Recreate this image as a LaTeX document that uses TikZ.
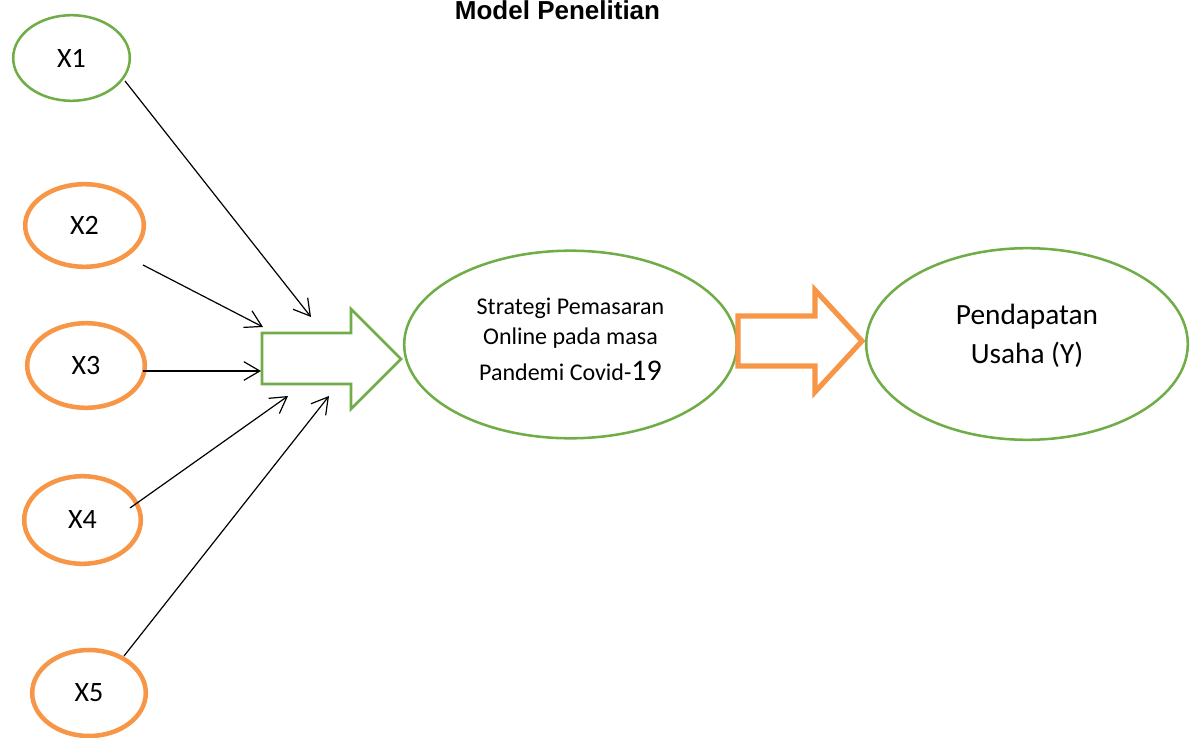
\documentclass[tikz,border=0pt]{standalone}
\usepackage{fontspec}
\setmainfont{Carlito}
\newfontfamily\titlefont{Liberation Sans}
\usetikzlibrary{shapes.geometric,arrows.meta,calc}
\definecolor{leafgreen}{HTML}{70AD47}
\definecolor{warmorange}{HTML}{F79646}
\begin{document}
\begin{tikzpicture}[x=0.75pt,y=-0.75pt,
  oval/.style 2 args={ellipse, inner sep=0pt, minimum width={1.5pt*#1}, minimum height={1.5pt*#2}},
  greenoval/.style={draw=leafgreen, line width=1.9pt},
  orangeoval/.style={draw=warmorange, line width=3.4pt},
  varlabel/.style={font=\fontsize{21}{25}\selectfont},
  conn/.style={draw=black, line width=0.9pt, -{Straight Barb[length=12pt,width=14pt]}},
  blockgreen/.style={draw=leafgreen, line width=1.9pt, line join=miter},
  blockorange/.style={draw=warmorange, line width=3.8pt, line join=miter}
]
\useasboundingbox (0,0) rectangle (1191,738);

% title
\node[anchor=base, font=\titlefont\bfseries\fontsize{19.5}{24}\selectfont] (title) at (557.5,20) {Model Penelitian};

% independent variables
\node[oval={58.3}{42.8}, greenoval, varlabel]  (x1) at (71.5,58)    {X1};
\node[oval={59.3}{41.3}, orangeoval, varlabel] (x2) at (84.5,225.5) {X2};
\node[oval={58.8}{42.3}, orangeoval, varlabel] (x3) at (86,365.5)   {X3};
\node[oval={58.3}{43.8}, orangeoval, varlabel] (x4) at (82.5,520)   {X4};
\node[oval={56.8}{43}, orangeoval, varlabel]   (x5) at (89,693)     {X5};

% mediating and dependent variables
\node[oval={166.3}{93.8}, greenoval] (strategi) at (570.5,344.5) {};
\node[align=center, font=\fontsize{18}{22.5}\selectfont] (strategitext) at (570.5,339)
  {Strategi Pemasaran\\Online pada masa\\[4.7pt]Pandemi Covid-{\fontsize{22.5}{26}\selectfont 19}};
\node[oval={160.8}{95.8}, greenoval] (pendapatan) at (1027,344) {};
\node[align=center, font=\fontsize{22}{29}\selectfont] (pendapatantext) at (1027,336)
  {Pendapatan\\Usaha (Y)};

% block arrows
\draw[blockgreen] (262,333) -- (351,333) -- (351,309) -- (401,359) -- (351,409) -- (351,384) -- (262,384) -- cycle;
\draw[blockorange] (738,316) -- (815,316) -- (815,290) -- (862,341) -- (815,392) -- (815,366) -- (738,366) -- cycle;

% arrow targets
\coordinate (t1) at (311,317);
\coordinate (t2) at (263,327);
\coordinate (t3) at (261,371);
\coordinate (t4) at (288,396);
\coordinate (t5) at (329,396);

% connectors
\draw[conn] ($(x1)+(53.5,23)$) -- (t1);
\draw[conn] ($(x2)+(58.5,39.5)$) -- (t2);
\draw[conn] ($(x3)+(57,5.5)$) -- (t3);
\draw[conn] ($(x4)+(47.5,-12)$) -- (t4);
\draw[conn] ($(x5)+(35,-37)$) -- (t5);
\end{tikzpicture}
\end{document}
